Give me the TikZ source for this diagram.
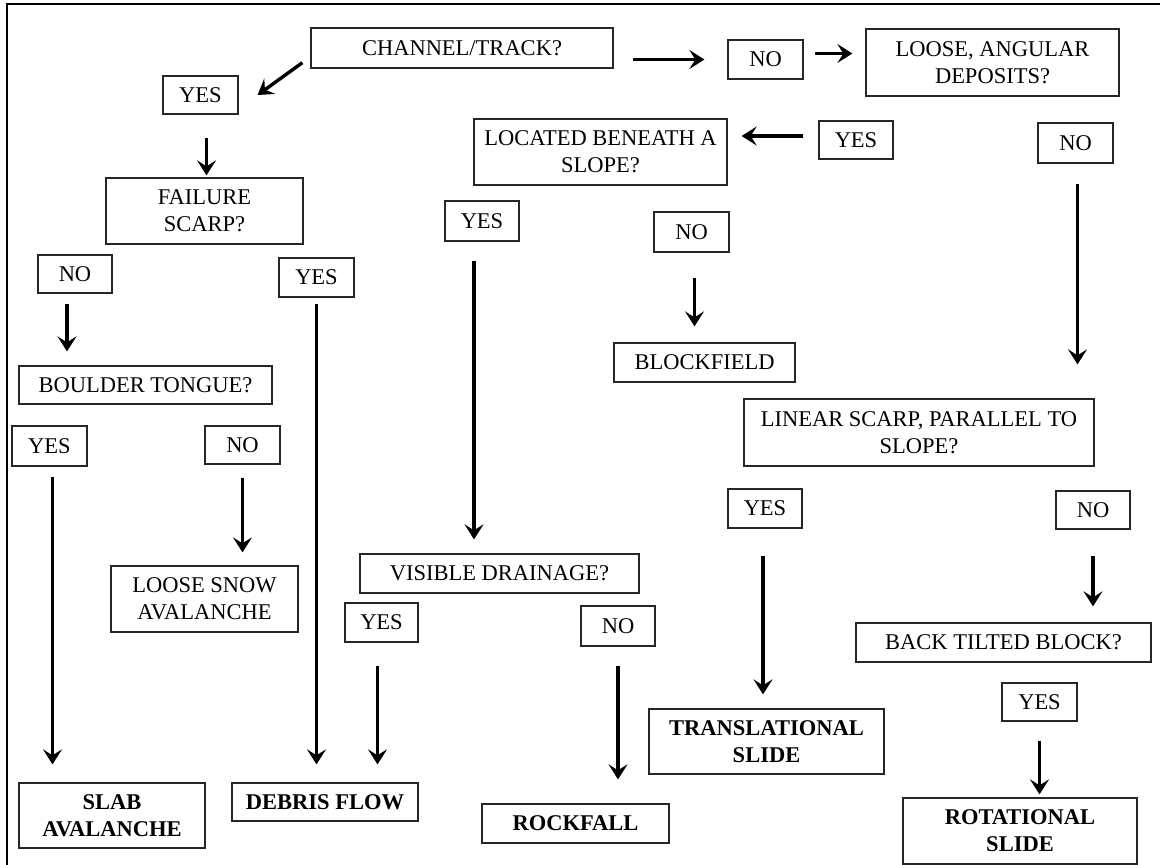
\documentclass[tikz,border=0pt]{standalone}
\usepackage{fontspec}
\setmainfont{Liberation Serif}
\usetikzlibrary{arrows.meta}

\begin{document}
\begin{tikzpicture}[x=1pt,y=-1pt,
    box/.style={draw=black!85, line width=1.3pt, rectangle, inner sep=0pt, align=center,
      font=\fontsize{22.5}{27}\selectfont},
    endbox/.style={box, font=\fontsize{22.5}{27}\selectfont\bfseries},
    arr/.style={line width=3.4pt, -{Stealth[length=15pt,width=19pt,inset=6pt]}}]
  \useasboundingbox (0,0) rectangle (1160,865);
  % outer frame, running off the right and bottom edges
  \draw[line width=2pt] (1180,4) -- (7,4) -- (7,880);

  % question boxes
  \node[box, minimum width=302, minimum height=40] (channel) at (462,48) {CHANNEL/TRACK?};
  \node[box, minimum width=253, minimum height=67] (loose) at (992.5,62.5) {LOOSE, ANGULAR\\DEPOSITS?};
  \node[box, minimum width=197, minimum height=66] (failure) at (204.5,211) {FAILURE\\SCARP?};
  \node[box, minimum width=253, minimum height=66] (located) at (600.5,152) {LOCATED BENEATH A\\SLOPE?};
  \node[box, minimum width=253, minimum height=38] (boulder) at (145.5,385) {BOULDER TONGUE?};
  \node[box, minimum width=350, minimum height=67] (linear) at (919,432.5) {LINEAR SCARP, PARALLEL TO\\SLOPE?};
  \node[box, minimum width=279, minimum height=39] (drainage) at (499.5,573.5) {VISIBLE DRAINAGE?};
  \node[box, minimum width=295, minimum height=39] (tilted) at (1003.5,642.5) {BACK TILTED BLOCK?};
  \node[box, minimum width=181, minimum height=39] (blockfield) at (704.5,362.5) {BLOCKFIELD};
  \node[box, minimum width=187, minimum height=66] (snow) at (204.5,599) {LOOSE SNOW\\AVALANCHE};

  % yes / no boxes
  \node[box, minimum width=75, minimum height=39] (noTop) at (765.5,59.5) {NO};
  \node[box, minimum width=75, minimum height=38] (yesTop) at (200.5,95) {YES};
  \node[box, minimum width=74, minimum height=38] (yesLoose) at (856,140) {YES};
  \node[box, minimum width=75, minimum height=40] (noLoose) at (1075.5,143) {NO};
  \node[box, minimum width=74, minimum height=40] (yesLocated) at (482,221) {YES};
  \node[box, minimum width=75, minimum height=40] (noLocated) at (691.5,232) {NO};
  \node[box, minimum width=74, minimum height=38] (noFailure) at (75,274) {NO};
  \node[box, minimum width=75, minimum height=39] (yesFailure) at (316.5,277.5) {YES};
  \node[box, minimum width=75, minimum height=40] (yesBoulder) at (49.5,446) {YES};
  \node[box, minimum width=75, minimum height=38] (noBoulder) at (242.5,445) {NO};
  \node[box, minimum width=74, minimum height=39] (yesLinear) at (765,508.5) {YES};
  \node[box, minimum width=74, minimum height=38] (noLinear) at (1093,510) {NO};
  \node[box, minimum width=73, minimum height=39] (yesDrainage) at (381.5,622.5) {YES};
  \node[box, minimum width=74, minimum height=40] (noDrainage) at (618,626) {NO};
  \node[box, minimum width=75, minimum height=38] (yesTilted) at (1039.5,702) {YES};

  % end results
  \node[endbox, minimum width=186, minimum height=65] (slab) at (112,815.5) {SLAB\\AVALANCHE};
  \node[endbox, minimum width=186, minimum height=38] (debris) at (325,802) {DEBRIS FLOW};
  \node[endbox, minimum width=187, minimum height=39] (rockfall) at (575.5,823.5) {ROCKFALL};
  \node[endbox, minimum width=235, minimum height=65] (translational) at (766.5,741.5) {TRANSLATIONAL\\SLIDE};
  \node[endbox, minimum width=234, minimum height=66] (rotational) at (1020,831) {ROTATIONAL\\SLIDE};

  % arrows along the top
  \draw[arr, shorten <=19pt, shorten >=23pt] (channel.east |- noTop.west) -- (noTop.west);
  \draw[arr, shorten <=11pt, shorten >=13pt] ([yshift=6]noTop.east) -- ([yshift=6]noTop.east -| loose.west);
  \draw[arr, shorten <=15pt, shorten >=14pt] ([yshift=4]yesLoose.west) -- ([yshift=4]yesLoose.west -| located.east);
  \draw[arr] ([shift={(-8,-6)}]channel.south west) -- ([xshift=19]yesTop.east);

  % left branch
  \draw[arr, shorten <=23pt, shorten >=2pt] ([xshift=6]yesTop.south) -- ([xshift=6]yesTop.south |- failure.north);
  \draw[arr, shorten <=10pt, shorten >=14pt] ([xshift=-8]noFailure.south) -- ([xshift=-8]noFailure.south |- boulder.north);
  \draw[arr, shorten <=6pt, shorten >=18pt] (yesFailure.south) -- (yesFailure.south |- debris.north);
  \draw[arr, shorten <=10pt, shorten >=18pt] ([xshift=3]yesBoulder.south) -- ([xshift=3]yesBoulder.south |- slab.north);
  \draw[arr, shorten <=13pt, shorten >=13pt] (noBoulder.south) -- (noBoulder.south |- snow.north);

  % middle branch
  \draw[arr, shorten <=19pt, shorten >=14pt] ([xshift=-8]yesLocated.south) -- ([xshift=-8]yesLocated.south |- drainage.north);
  \draw[arr, shorten <=25pt, shorten >=16pt] ([xshift=3]noLocated.south) -- ([xshift=3]noLocated.south |- blockfield.north);
  \draw[arr, shorten <=23pt, shorten >=18pt] ([xshift=-4]yesDrainage.south) -- ([xshift=-4]yesDrainage.south |- debris.north);
  \draw[arr, shorten <=19pt, shorten >=24pt] (noDrainage.south) -- (noDrainage.south |- rockfall.north);

  % right branch
  \draw[arr, shorten <=20pt, shorten >=34pt] ([xshift=2]noLoose.south) -- ([xshift=2]noLoose.south |- linear.north);
  \draw[arr, shorten <=27pt, shorten >=14pt] ([xshift=-2]yesLinear.south) -- ([xshift=-2]yesLinear.south |- translational.north);
  \draw[arr, shorten <=26pt, shorten >=16pt] (noLinear.south) -- (noLinear.south |- tilted.north);
  \draw[arr, shorten <=19pt, shorten >=3pt] (yesTilted.south) -- (yesTilted.south |- rotational.north);
\end{tikzpicture}
\end{document}
